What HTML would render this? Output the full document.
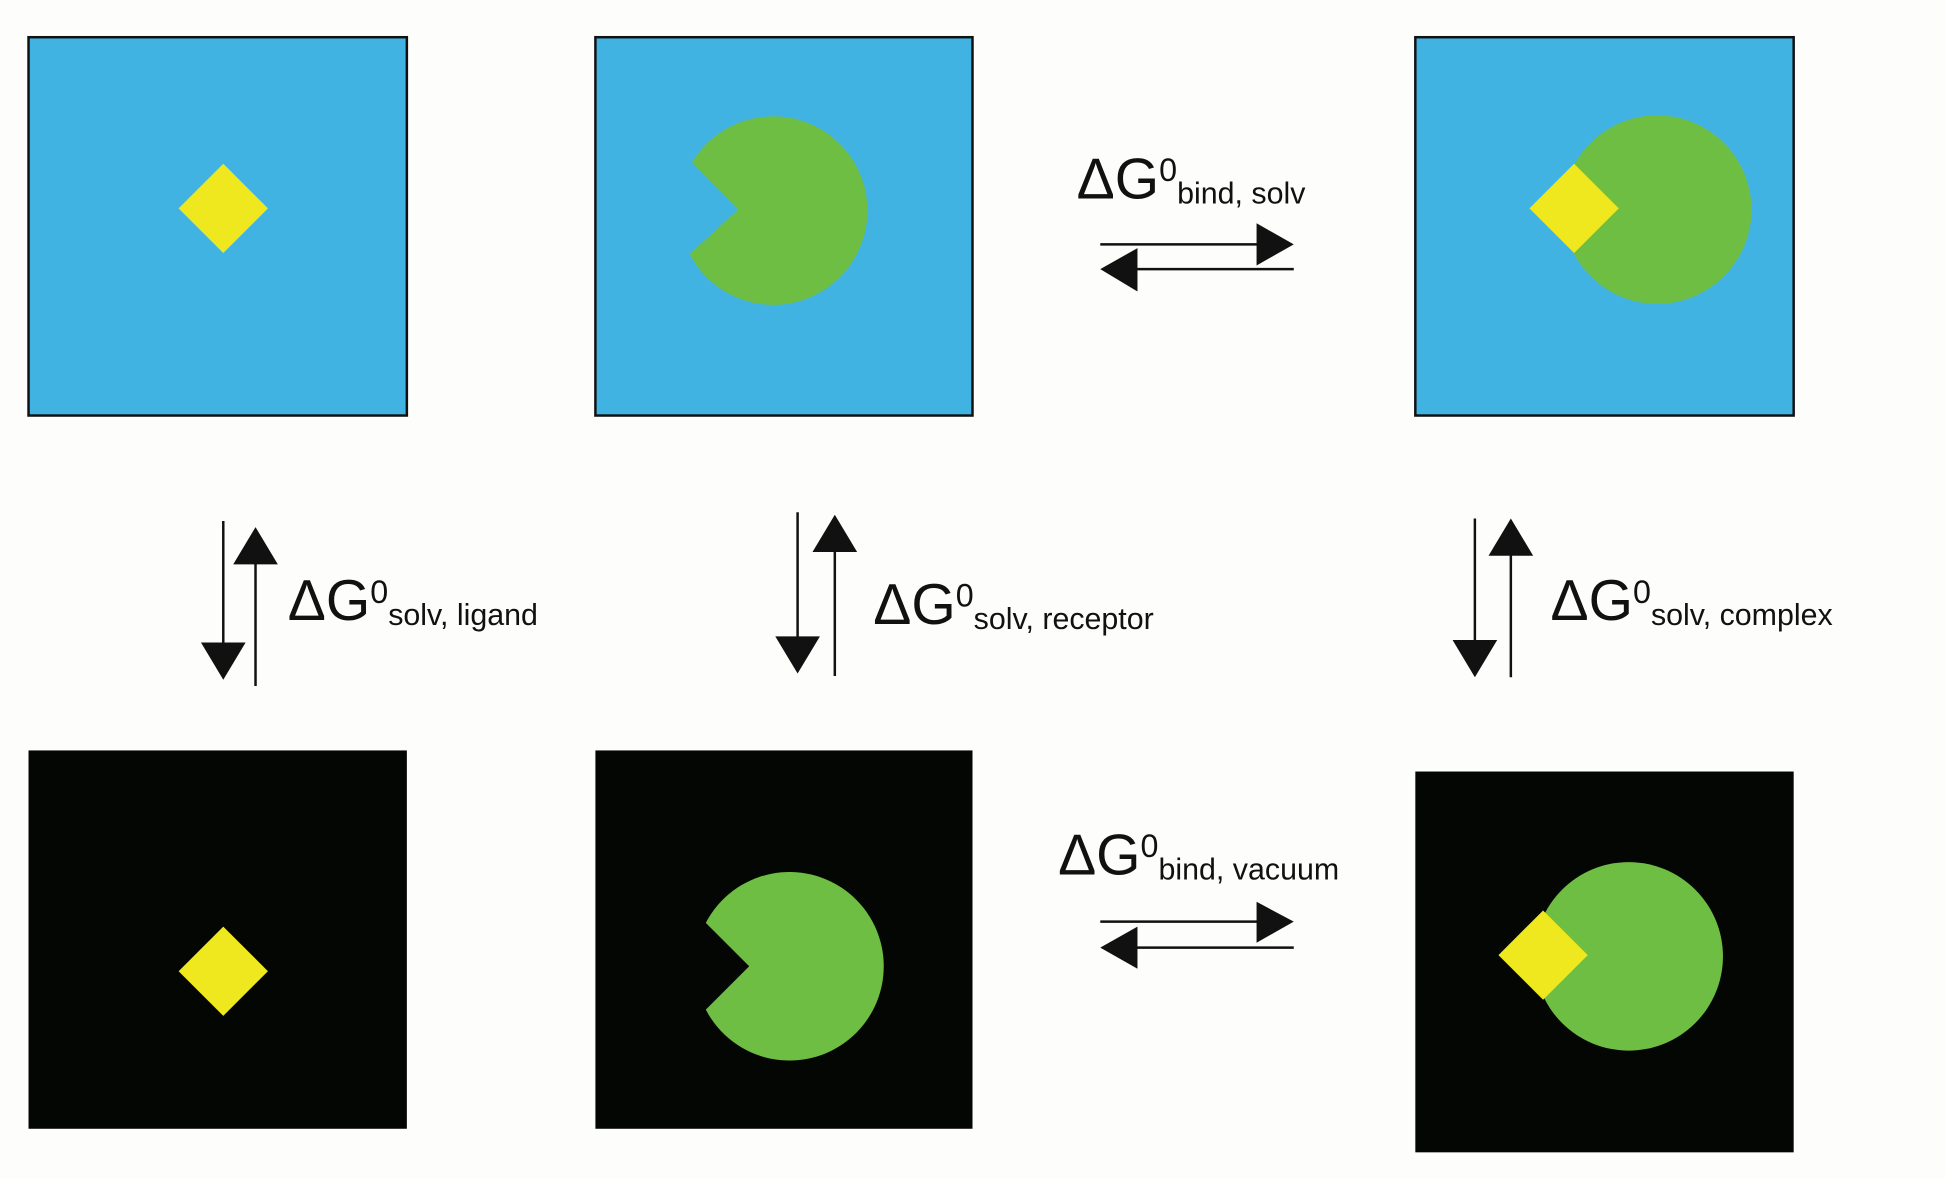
<!DOCTYPE html>
<html><head><meta charset="utf-8"><style>
html,body{margin:0;padding:0;background:#fdfdfb;}
svg{display:block}
text{font-family:"Liberation Sans",sans-serif;fill:#111}
</style></head><body>
<svg width="1945" height="1179" viewBox="0 0 1568 950.5" preserveAspectRatio="none" xmlns="http://www.w3.org/2000/svg">
<rect width="1568" height="951" fill="#fdfdfb"/>
<rect x="23" y="30" width="305" height="305" fill="#41b3e3" stroke="#111" stroke-width="2"/>
<rect x="480" y="30" width="304" height="305" fill="#41b3e3" stroke="#111" stroke-width="2"/>
<rect x="1141" y="30" width="305" height="305" fill="#41b3e3" stroke="#111" stroke-width="2"/>
<rect x="23" y="605" width="305" height="305" fill="#030603"/>
<rect x="480" y="605" width="304" height="305" fill="#030603"/>
<rect x="1141" y="622" width="305" height="307" fill="#030603"/>

<polygon points="180,132 216,168 180,204 144,168" fill="#f0e81e"/>
<path d="M595,169 L558,131 A76,76 0 1 1 556,205 Z" fill="#6fbe44"/>
<circle cx="1336" cy="169" r="76" fill="#6fbe44"/>
<polygon points="1269,132 1305,168 1269,204 1233,168" fill="#f0e81e"/>

<polygon points="180,747 216,783 180,819 144,783" fill="#f0e81e"/>
<path d="M604,779 L569,744 A76,76 0 1 1 569,814 Z" fill="#6fbe44"/>
<circle cx="1313" cy="771" r="76" fill="#6fbe44"/>
<polygon points="1244,734 1280,770 1244,806 1208,770" fill="#f0e81e"/>

<g stroke="#111" stroke-width="2" fill="#111">
<line x1="887" y1="197" x2="1015" y2="197"/><polygon points="1013,180 1043,197 1013,214" stroke="none"/>
<line x1="915" y1="217" x2="1043" y2="217"/><polygon points="917,200 887,217 917,235" stroke="none"/>
<line x1="887" y1="743" x2="1015" y2="743"/><polygon points="1013,727 1043,743 1013,760" stroke="none"/>
<line x1="915" y1="764" x2="1043" y2="764"/><polygon points="917,747 887,764 917,781" stroke="none"/>
<line x1="180" y1="420" x2="180" y2="520"/><polygon points="162,518 198,518 180,548" stroke="none"/>
<line x1="206" y1="553" x2="206" y2="453"/><polygon points="188,455 224,455 206,425" stroke="none"/>
<line x1="643" y1="413" x2="643" y2="515"/><polygon points="625,513 661,513 643,543" stroke="none"/>
<line x1="673" y1="545" x2="673" y2="443"/><polygon points="655,445 691,445 673,415" stroke="none"/>
<line x1="1189" y1="418" x2="1189" y2="518"/><polygon points="1171,516 1207,516 1189,546" stroke="none"/>
<line x1="1218" y1="546" x2="1218" y2="446"/><polygon points="1200,448 1236,448 1218,418" stroke="none"/>
</g>

<text x="868" y="160" font-size="46">ΔG<tspan font-size="26" dy="-14">0</tspan><tspan font-size="24.5" dy="18">bind, solv</tspan></text>
<text x="853" y="705" font-size="46">ΔG<tspan font-size="26" dy="-14">0</tspan><tspan font-size="24.5" dy="18">bind, vacuum</tspan></text>
<text x="232" y="500" font-size="46">ΔG<tspan font-size="26" dy="-14">0</tspan><tspan font-size="24.5" dy="18">solv, ligand</tspan></text>
<text x="704" y="503" font-size="46">ΔG<tspan font-size="26" dy="-14">0</tspan><tspan font-size="24.5" dy="18">solv, receptor</tspan></text>
<text x="1250" y="500" font-size="46">ΔG<tspan font-size="26" dy="-14">0</tspan><tspan font-size="24.5" dy="18">solv, complex</tspan></text>
</svg>
</body></html>
